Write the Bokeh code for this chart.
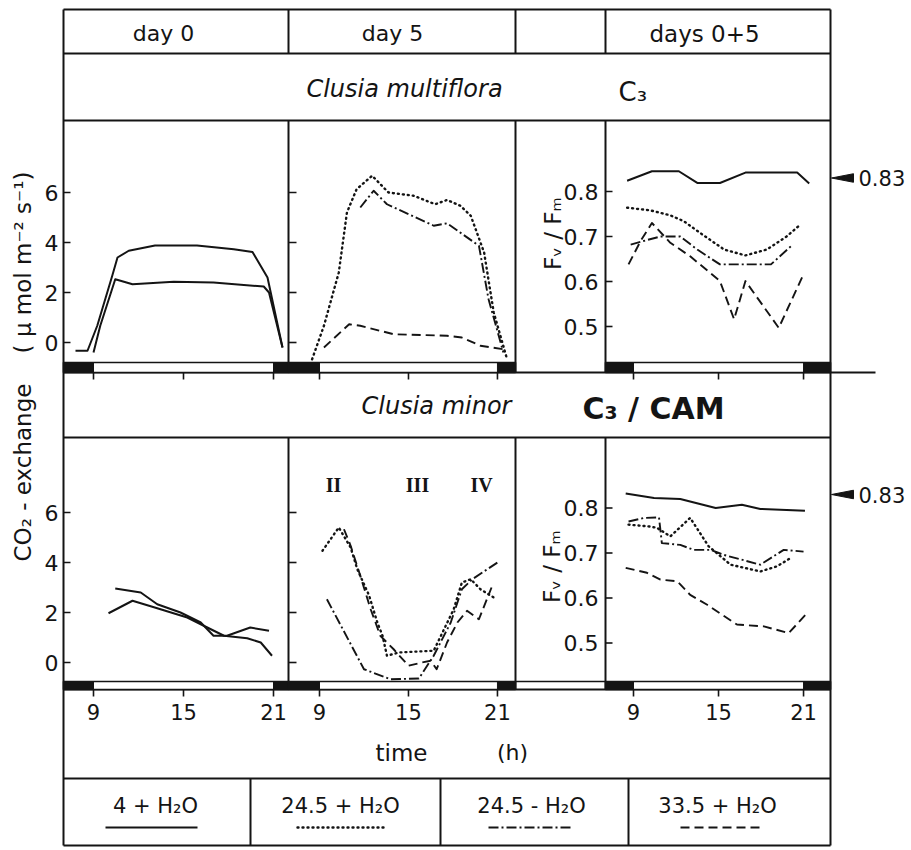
import math
from bokeh.plotting import figure
from bokeh.models import Range1d
from bokeh.embed import file_html
from bokeh.resources import INLINE
from bokeh.core.properties import value

# ---------------------------------------------------------------- data
TREATMENTS = ["4 + H₂O", "24.5 + H₂O", "24.5 - H₂O", "33.5 + H₂O"]
LIGHT_ON, LIGHT_OFF = 9, 21
HOUR_TICKS = [9, 15, 21]
CO2_TICKS = [0, 2, 4, 6]
FV_TICKS = [0.5, 0.6, 0.7, 0.8]
FV_REF = 0.83

# Clusia multiflora (C3) - CO2 exchange, day 0 (two 4 + H2O curves)
mf_d0_1_h = [7.8, 8.6, 9.25, 10.25, 10.6, 11.35, 13.1, 15.9, 18.35, 19.6, 20.6, 21.6]
mf_d0_1_v = [-0.33, -0.33, 0.67, 2.67, 3.4, 3.67, 3.88, 3.88, 3.73, 3.62, 2.6, -0.2]
mf_d0_2_h = [9.0, 9.45, 10.45, 10.8, 11.6, 14.35, 17.0, 20.35, 20.7, 21.6]
mf_d0_2_v = [-0.4, 0.67, 2.53, 2.47, 2.33, 2.43, 2.4, 2.24, 2.0, -0.2]
# day 5
mf_d5_dot_h = [8.5, 9.3, 10.3, 10.85, 11.5, 12.55, 13.65, 15.35, 16.8, 17.6, 18.5, 19.2, 20.1, 20.75, 21.65]
mf_d5_dot_v = [-0.67, 0.67, 2.8, 5.2, 6.13, 6.67, 6.0, 5.87, 5.53, 5.7, 5.47, 5.07, 3.6, 1.2, -0.67]
mf_d5_dd_h = [11.75, 12.65, 13.55, 16.7, 17.6, 19.75, 20.4, 21.4]
mf_d5_dd_v = [5.4, 6.07, 5.53, 4.67, 4.77, 3.87, 1.73, -0.4]
mf_d5_da_h = [9.3, 11.0, 11.75, 14.0, 17.6, 18.6, 19.85, 21.4]
mf_d5_da_v = [-0.2, 0.73, 0.67, 0.33, 0.27, 0.2, -0.13, -0.27]
# Fv/Fm days 0+5
mf_fv_sol_h = [8.55, 10.3, 12.2, 13.5, 15.1, 16.9, 20.55, 21.4]
mf_fv_sol_v = [0.824, 0.845, 0.845, 0.819, 0.819, 0.842, 0.842, 0.818]
mf_fv_dot_h = [8.55, 10.2, 11.6, 12.55, 13.7, 15.4, 16.9, 18.4, 19.8, 20.8]
mf_fv_dot_v = [0.764, 0.758, 0.747, 0.734, 0.708, 0.671, 0.658, 0.671, 0.70, 0.727]
mf_fv_dd_h = [8.8, 9.7, 10.9, 12.3, 13.5, 15.1, 18.7, 20.1]
mf_fv_dd_v = [0.682, 0.69, 0.70, 0.70, 0.671, 0.638, 0.638, 0.678]
mf_fv_da_h = [8.65, 9.5, 10.3, 11.6, 13.0, 15.1, 16.1, 16.9, 19.25, 21.0]
mf_fv_da_v = [0.638, 0.69, 0.73, 0.686, 0.656, 0.601, 0.516, 0.601, 0.497, 0.616]

# Clusia minor (C3 / CAM) - CO2 exchange, day 0
mi_d0_1_h = [10.45, 12.15, 13.25, 14.8, 16.15, 17.0, 17.9, 19.45, 20.7]
mi_d0_1_v = [2.96, 2.8, 2.33, 2.0, 1.6, 1.07, 1.07, 1.4, 1.27]
mi_d0_2_h = [10.0, 11.6, 13.25, 15.25, 16.35, 17.7, 19.25, 20.15, 20.9]
mi_d0_2_v = [1.97, 2.47, 2.17, 1.8, 1.47, 1.07, 0.97, 0.8, 0.27]
# day 5
mi_d5_dot_h = [9.2, 10.3, 11.1, 11.55, 12.35, 12.9, 13.25, 13.55, 14.35, 16.7, 17.4, 18.05, 18.6, 19.2, 19.85, 20.75]
mi_d5_dot_v = [4.47, 5.4, 4.6, 3.73, 2.67, 1.6, 1.07, 0.27, 0.4, 0.47, 1.33, 2.13, 3.2, 3.33, 2.93, 2.6]
mi_d5_dd_h = [9.5, 12.0, 13.8, 15.7, 16.7, 17.85, 18.6, 19.3, 21.0]
mi_d5_dd_v = [2.53, -0.27, -0.67, -0.64, 0.27, 1.6, 2.93, 3.33, 4.0]
mi_d5_da_h = [10.65, 11.1, 11.75, 12.45, 13.1, 14.0, 15.0, 15.9, 16.5, 16.9, 17.6, 18.3, 18.95, 19.75, 20.6]
mi_d5_da_v = [5.33, 4.67, 3.47, 2.13, 1.07, 0.53, -0.13, 0.0, 0.07, -0.27, 0.8, 1.6, 2.07, 1.73, 3.0]
# Fv/Fm days 0+5
mi_fv_sol_h = [8.45, 10.45, 12.3, 14.8, 16.65, 17.95, 21.1]
mi_fv_sol_v = [0.832, 0.822, 0.82, 0.80, 0.807, 0.798, 0.794]
mi_fv_dot_h = [8.65, 10.1, 10.65, 11.6, 13.0, 14.3, 15.85, 17.95, 19.1, 20.1]
mi_fv_dot_v = [0.763, 0.759, 0.756, 0.737, 0.778, 0.715, 0.674, 0.659, 0.67, 0.689]
mi_fv_dd_h = [8.65, 9.75, 10.8, 11.0, 12.3, 13.25, 14.45, 15.35, 17.95, 19.6, 21.0]
mi_fv_dd_v = [0.77, 0.778, 0.779, 0.722, 0.718, 0.707, 0.707, 0.696, 0.674, 0.707, 0.703]
mi_fv_da_h = [8.45, 9.95, 10.9, 12.1, 13.0, 14.2, 16.3, 18.2, 19.95, 21.15]
mi_fv_da_v = [0.667, 0.656, 0.641, 0.637, 0.607, 0.585, 0.541, 0.537, 0.522, 0.563]

# ---------------------------------------------------------------- styles / layout
INK = "#141414"
FONT = "DejaVu Sans"
W, H = 911, 850

STYLE = {
    "solid": dict(line_dash="solid", line_width=2.0),
    "dotted": dict(line_dash="1 4", line_width=2.4, line_cap="round"),
    "dashdot": dict(line_dash="10 3 2 3", line_width=1.9),
    "dashed": dict(line_dash="9 5", line_width=1.9),
}

L, R = 63, 830
Y_TOP, Y_HEAD, Y_SP1, Y_SEP, Y_SP2, Y_LBAR, Y_TIME, Y_BOT = 9, 53, 120, 372, 437, 689, 778, 845
COLS = {"A": (63, 288), "B": (288, 515), "C": (605, 830)}
BAR_U = (362, 372)
BAR_L = (681, 689)

# pixel of 9 h and pixels per hour for each column
XCAL = {"A": (93.0, 15.0), "B": (319.0, 14.83), "C": (633.0, 14.17)}
# pixel of reference value, reference value, pixels per unit
YCAL = {"uco2": (342.0, 0.0, 25.0), "lco2": (662.0, 0.0, 25.0),
        "ufv": (191.0, 0.8, 450.0), "lfv": (507.5, 0.8, 450.0)}


def h_of(k, px):
    px9, s = XCAL[k]
    return 9 + (px - px9) / s


p = figure(width=W, height=H, x_range=Range1d(0, W), y_range=Range1d(H, 0),
           output_backend="svg", toolbar_location=None,
           x_axis_location=None, y_axis_location=None,
           min_border=0, outline_line_color=None,
           background_fill_color="white", border_fill_color="white")
p.grid.visible = False

p.extra_x_ranges = {"x" + k: Range1d(start=9 - px9 / s, end=9 + (W - px9) / s)
                    for k, (px9, s) in XCAL.items()}
p.extra_y_ranges = {k: Range1d(start=v0 + (py0 - H) / s, end=v0 + py0 / s)
                    for k, (py0, v0, s) in YCAL.items()}

# ---------------------------------------------------------------- frame
hx0, hx1, hy = [], [], []
for y, x1 in [(Y_TOP, R), (Y_HEAD, R), (Y_SP1, R), (Y_SEP, 875), (Y_SP2, R),
              (Y_LBAR, R), (Y_TIME, R), (Y_BOT, R)]:
    hx0.append(L); hx1.append(x1); hy.append(y)
p.segment(x0=hx0, y0=hy, x1=hx1, y1=hy, line_color=INK, line_width=2)

vx, vy0, vy1 = [L, R], [Y_TOP, Y_TOP], [Y_BOT, Y_BOT]
for x in (288, 515, 605):
    for a, b in [(Y_TOP, Y_HEAD), (Y_SP1, Y_SEP), (Y_SP2, Y_LBAR)]:
        vx.append(x); vy0.append(a); vy1.append(b)
for x in (250, 440, 628):
    vx.append(x); vy0.append(Y_TIME); vy1.append(Y_BOT)
p.segment(x0=vx, y0=vy0, x1=vx, y1=vy1, line_color=INK, line_width=2)

# light / dark bars and hour ticks
for (b0, b1) in (BAR_U, BAR_L):
    for k, (c0, c1) in COLS.items():
        hl, hr = h_of(k, c0), h_of(k, c1)
        xr = "x" + k
        p.quad(left=[hl], right=[hr], top=[b0], bottom=[b1], x_range_name=xr,
               fill_color="white", line_color=INK, line_width=1.6)
        p.quad(left=[hl, LIGHT_OFF], right=[LIGHT_ON, hr], top=[b0, b0], bottom=[b1, b1],
               x_range_name=xr, fill_color=INK, line_color=INK, line_width=1)
        p.segment(x0=HOUR_TICKS, x1=HOUR_TICKS, y0=[b1] * 3, y1=[b1 + 7] * 3,
                  x_range_name=xr, line_color=INK, line_width=1.6)
# bar outline across the gap column of the lower row
p.segment(x0=[515], x1=[605], y0=[BAR_L[0]], y1=[BAR_L[0]], line_color=INK, line_width=1.6)

# hour tick labels (lower row)
for k in COLS:
    p.text(x=HOUR_TICKS, y=[711] * 3, text=[str(t) for t in HOUR_TICKS],
           x_range_name="x" + k, text_align="center", text_baseline="middle",
           text_font=value(FONT), text_font_size="21px", text_color=INK)

# y ticks
for row, (co2, fv) in {"u": ("uco2", "ufv"), "l": ("lco2", "lfv")}.items():
    n = len(CO2_TICKS)
    p.segment(x0=[L] * n, x1=[L + 7] * n, y0=CO2_TICKS, y1=CO2_TICKS,
              y_range_name=co2, line_color=INK, line_width=1.6)
    p.segment(x0=[288] * n, x1=[296] * n, y0=CO2_TICKS, y1=CO2_TICKS,
              y_range_name=co2, line_color=INK, line_width=1.6)
    p.text(x=[58] * n, y=CO2_TICKS, text=[str(t) for t in CO2_TICKS], y_range_name=co2,
           text_align="right", text_baseline="middle", text_font=value(FONT),
           text_font_size="22px", text_color=INK)
    m = len(FV_TICKS)
    p.segment(x0=[605] * m, x1=[612] * m, y0=FV_TICKS, y1=FV_TICKS,
              y_range_name=fv, line_color=INK, line_width=1.6)
    p.text(x=[598] * m, y=FV_TICKS, text=[f"{t:.1f}" for t in FV_TICKS], y_range_name=fv,
           text_align="right", text_baseline="middle", text_font=value(FONT),
           text_font_size="22px", text_color=INK)
    # reference marker 0.83
    d = 0.0095
    p.patch(x=[831, 853, 853], y=[FV_REF, FV_REF + d, FV_REF - d], y_range_name=fv,
            fill_color=INK, line_color=INK, line_width=1)
    p.text(x=[858], y=[FV_REF], text=[f"{FV_REF:.2f}"], y_range_name=fv,
           text_align="left", text_baseline="middle", text_font=value(FONT),
           text_font_size="21px", text_color=INK)

# ---------------------------------------------------------------- data lines
series = [
    ("A", "uco2", mf_d0_1_h, mf_d0_1_v, "solid"),
    ("A", "uco2", mf_d0_2_h, mf_d0_2_v, "solid"),
    ("B", "uco2", mf_d5_dot_h, mf_d5_dot_v, "dotted"),
    ("B", "uco2", mf_d5_dd_h, mf_d5_dd_v, "dashdot"),
    ("B", "uco2", mf_d5_da_h, mf_d5_da_v, "dashed"),
    ("C", "ufv", mf_fv_sol_h, mf_fv_sol_v, "solid"),
    ("C", "ufv", mf_fv_dot_h, mf_fv_dot_v, "dotted"),
    ("C", "ufv", mf_fv_dd_h, mf_fv_dd_v, "dashdot"),
    ("C", "ufv", mf_fv_da_h, mf_fv_da_v, "dashed"),
    ("A", "lco2", mi_d0_1_h, mi_d0_1_v, "solid"),
    ("A", "lco2", mi_d0_2_h, mi_d0_2_v, "solid"),
    ("B", "lco2", mi_d5_dot_h, mi_d5_dot_v, "dotted"),
    ("B", "lco2", mi_d5_dd_h, mi_d5_dd_v, "dashdot"),
    ("B", "lco2", mi_d5_da_h, mi_d5_da_v, "dashed"),
    ("C", "lfv", mi_fv_sol_h, mi_fv_sol_v, "solid"),
    ("C", "lfv", mi_fv_dot_h, mi_fv_dot_v, "dotted"),
    ("C", "lfv", mi_fv_dd_h, mi_fv_dd_v, "dashdot"),
    ("C", "lfv", mi_fv_da_h, mi_fv_da_v, "dashed"),
]
for k, yr, hs, vs, st in series:
    p.line(x=hs, y=vs, x_range_name="x" + k, y_range_name=yr, line_color=INK,
           line_join="round", **STYLE[st])

# ---------------------------------------------------------------- texts
def txt(x, y, s, size, align="center", style="normal", angle=0.0, font=FONT):
    p.text(x=[x], y=[y], text=[s], angle=angle, text_align=align, text_baseline="middle",
           text_font=value(font), text_font_size=size, text_font_style=style, text_color=INK)

txt(163, 33, "day 0", "22px")
txt(392, 33, "day 5", "22px")
txt(704, 33, "days 0+5", "23px")
txt(404, 88, "Clusia multiflora", "24px", style="italic")
txt(618, 91, "C₃", "26px", align="left")
txt(436, 405, "Clusia minor", "24px", style="italic")
txt(582, 408, "C₃ / CAM", "30px", align="left", style="bold")
txt(22, 472, "CO₂ - exchange", "23px", angle=math.pi / 2)
txt(22, 262, "( µ mol m⁻² s⁻¹)", "23px", angle=math.pi / 2)
txt(552, 233, "Fᵥ / Fₘ", "23px", angle=math.pi / 2)
txt(551, 566, "Fᵥ / Fₘ", "23px", angle=math.pi / 2)
for x, s in [(333, "II"), (417, "III"), (481, "IV")]:
    txt(x, 484, s, "20px", style="bold", font="Liberation Serif")
txt(401, 752, "time", "23px")
txt(512, 752, "(h)", "22px")

# legend row
LEG_TX = [155, 340, 531, 717]
LEG_X0 = [105, 297, 488, 680]
LEG_X1 = [197, 387, 573, 760]
LEG_ST = ["solid", "dotted", "dashdot", "dashed"]
for name, cx, a, b, st in zip(TREATMENTS, LEG_TX, LEG_X0, LEG_X1, LEG_ST):
    txt(cx, 805, name, "21px")
    p.line(x=[a, b], y=[827, 827], line_color=INK, **STYLE[st])

open("out.html", "w").write(file_html(p, INLINE))
